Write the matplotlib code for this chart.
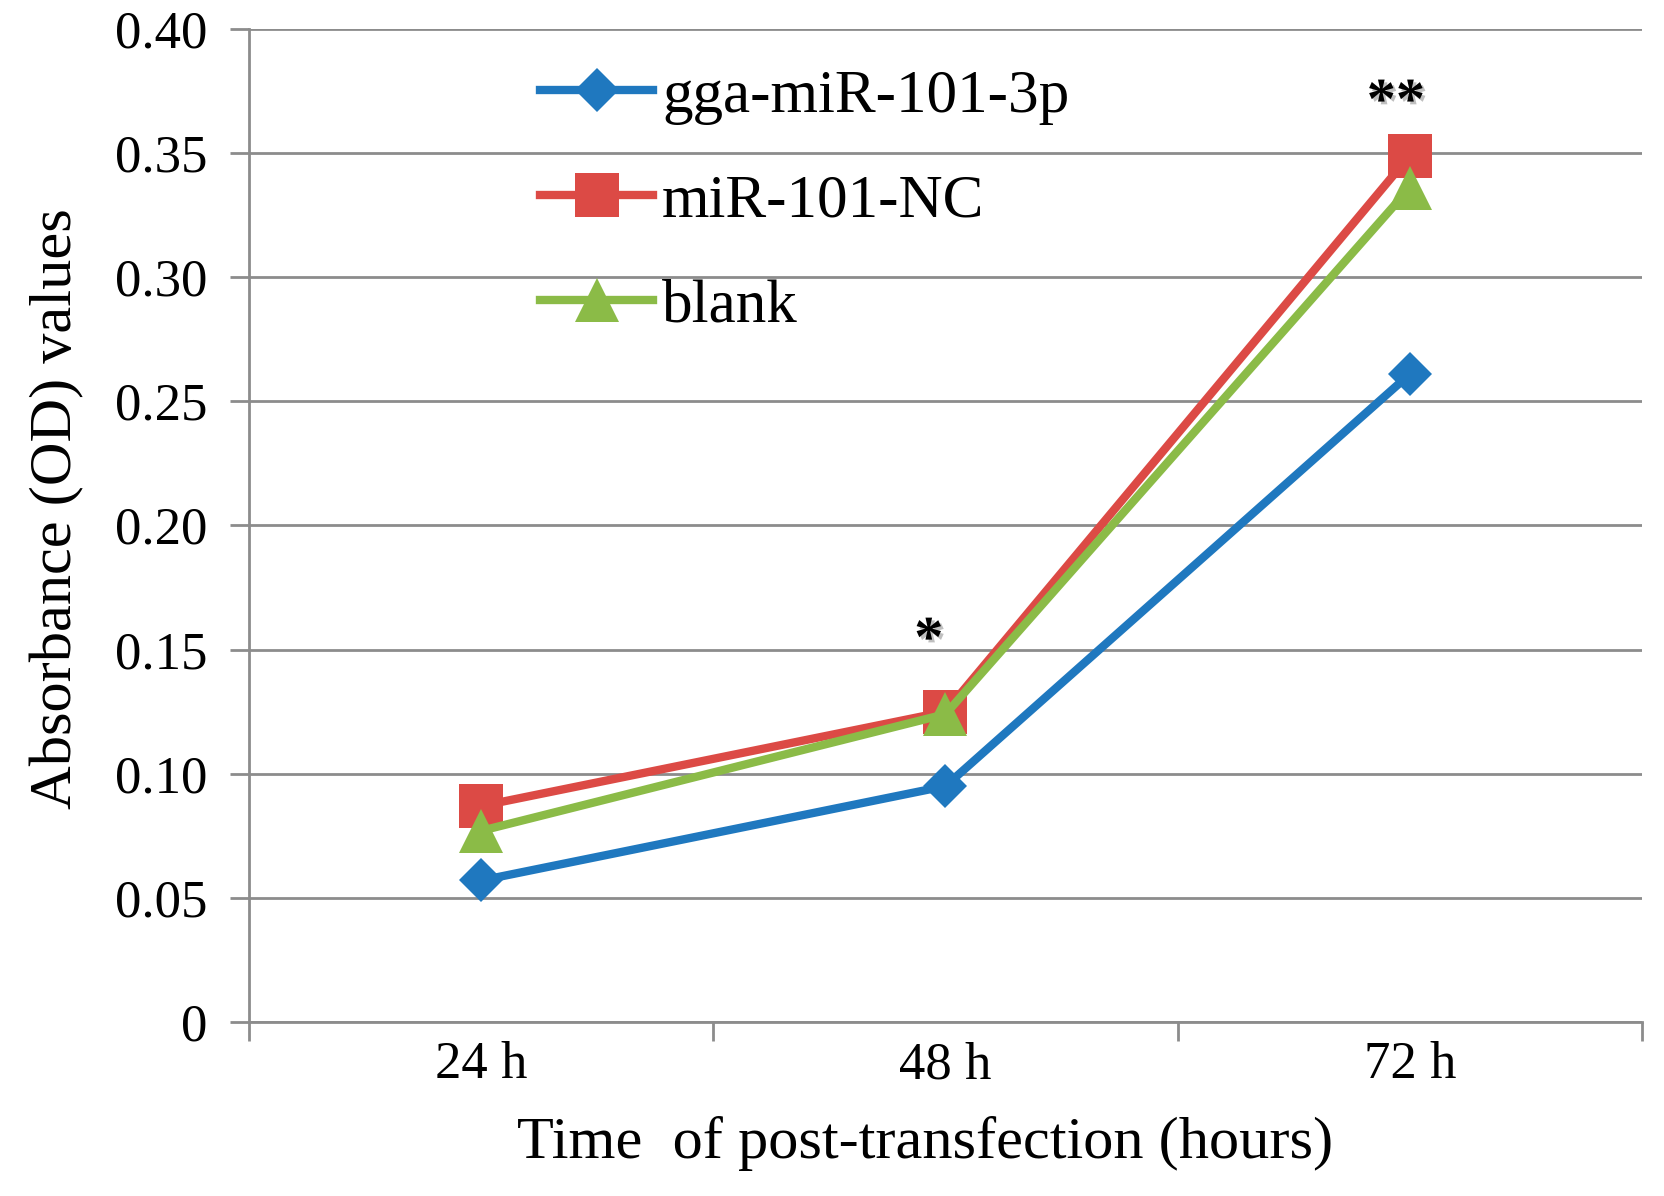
import matplotlib
matplotlib.use("Agg")
import matplotlib.pyplot as plt
import matplotlib.patheffects as pe
from matplotlib.ticker import FixedLocator, NullFormatter

categories = ["24 h", "48 h", "72 h"]
series_names = ["gga-miR-101-3p", "miR-101-NC", "blank"]
mir101 = [0.057, 0.095, 0.261]
nc = [0.087, 0.125, 0.349]
blank = [0.077, 0.124, 0.336]
yticks = [0, 0.05, 0.10, 0.15, 0.20, 0.25, 0.30, 0.35, 0.40]
ytick_labels = ["0", "0.05", "0.10", "0.15", "0.20", "0.25", "0.30", "0.35", "0.40"]
sig_marks = ["", "*", "**"]

plt.rcParams["font.family"] = ["Liberation Serif", "DejaVu Serif"]

fig = plt.figure(figsize=(16.64, 11.96), dpi=100)
ax = fig.add_axes([0.1496, 0.1455, 0.9868 - 0.1496, 0.9758 - 0.1455])

x = list(range(len(categories)))
grid_c = "#8c8c8c"

ax.plot(x, mir101, color="#1f78bf", lw=6, marker="D", ms=22, mew=0,
        label=series_names[0], zorder=3)
ax.plot(x, nc, color="#dc4a45", lw=6, marker="s", ms=31, mew=0,
        label=series_names[1], zorder=4)
ax.plot(x, blank, color="#8bbb47", lw=6, marker="^", ms=31, mew=0,
        label=series_names[2], zorder=5)

ax.set_xlim(-0.5, len(categories) - 0.5)
ax.set_ylim(0, 0.40)
ax.set_yticks(yticks)
ax.set_yticklabels(ytick_labels)
ax.yaxis.grid(True, color=grid_c, lw=2)
ax.set_axisbelow(True)

ax.set_xticks(x)
ax.set_xticklabels(categories)
ax.xaxis.set_minor_locator(FixedLocator([i - 0.5 for i in range(len(categories) + 1)]))
ax.xaxis.set_minor_formatter(NullFormatter())
ax.tick_params(axis="x", which="major", length=0, pad=14, labelsize=38)
ax.tick_params(axis="x", which="minor", length=14, width=2, color=grid_c)
ax.tick_params(axis="y", length=14, width=2, color=grid_c, pad=16, labelsize=38)

for s in ["top", "right"]:
    ax.spines[s].set_visible(False)
for s in ["left", "bottom"]:
    ax.spines[s].set_color(grid_c)
    ax.spines[s].set_linewidth(2)

ax.set_ylabel("Absorbance (OD) values", fontsize=43.5, labelpad=22, y=0.517)
ax.set_xlabel("Time  of post-transfection (hours)", fontsize=43.5, labelpad=19, x=0.485)

tops = [max(a, b, c) for a, b, c in zip(mir101, nc, blank)]
offsets = {1: (-12, 40), 2: (-10, 27)}
for xi, mark, t in zip(x, sig_marks, tops):
    if mark:
        ax.annotate(mark, xy=(xi, t), xytext=offsets[xi], textcoords="offset points",
                    ha="center", va="baseline", fontsize=42, fontweight="bold",
                    path_effects=[pe.SimplePatchShadow(offset=(2, -2), shadow_rgbFace="gray", alpha=0.5),
                                  pe.Normal()])

ax.legend(loc="upper left", bbox_to_anchor=(540 / 1664, 1 - 69 / 1196),
          bbox_transform=fig.transFigure, frameon=False, fontsize=44,
          handlelength=1.85, handletextpad=0.15, labelspacing=0.8,
          borderpad=0, borderaxespad=0, markerscale=1.0)

fig.savefig("out.png", dpi=100, facecolor="white")
